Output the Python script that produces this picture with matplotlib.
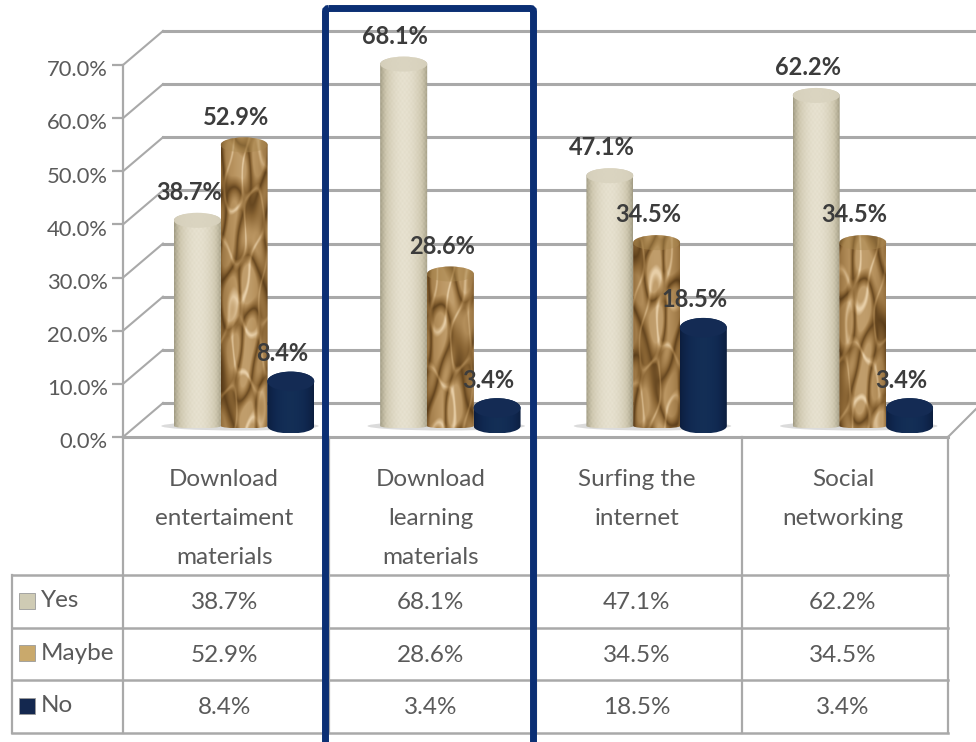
import numpy as np
import matplotlib
matplotlib.use("Agg")
import matplotlib.pyplot as plt
from matplotlib.patches import Ellipse, PathPatch, FancyBboxPatch, Rectangle
from matplotlib.path import Path
from matplotlib.colors import LinearSegmentedColormap
from matplotlib.transforms import ScaledTranslation

categories = ["Download\nentertaiment\nmaterials", "Download\nlearning\nmaterials",
              "Surfing the\ninternet", "Social\nnetworking"]
yes_vals = [38.7, 68.1, 47.1, 62.2]
maybe_vals = [52.9, 28.6, 34.5, 34.5]
no_vals = [8.4, 3.4, 18.5, 3.4]
series_names = ["Yes", "Maybe", "No"]
y_ticks = [0, 10, 20, 30, 40, 50, 60, 70]

W, H = 976, 742
plt.rcParams["font.family"] = ["Lato", "DejaVu Sans"]
GRID = "#a9a9a9"
TXT = "#5a5a5a"
fig = plt.figure(figsize=(W / 100, H / 100), dpi=100)
fig.patch.set_facecolor("white")

# layout in pixels
L, CAT_W, Y0, Y70 = 123, 206.25, 437, 65
PX = (Y0 - Y70) / 70
ax = fig.add_axes([L / W, 1 - Y0 / H, (W - L) / W, (Y0 - Y70) / H])
ax.set_xlim(0, (W - L) / CAT_W)
ax.set_ylim(0, 70)
ax.patch.set_alpha(0)
for s in ["top", "right", "bottom"]:
    ax.spines[s].set_visible(False)
ax.spines["left"].set_color(GRID)
ax.spines["left"].set_linewidth(1.6)
ax.set_xticks([])
ax.set_yticks(y_ticks)
ax.set_yticklabels([f"{t:.1f}%" for t in y_ticks], fontsize=15.8, color=TXT)
ax.tick_params(axis="y", length=8, width=1.6, color=GRID, pad=3)
for lab in ax.get_yticklabels():
    lab.set_transform(lab.get_transform() + ScaledTranslation(0, -2.4 / 72, fig.dpi_scale_trans))

# 3-D box: back wall, side wall and floor
DX, DY = 40 / CAT_W, 34 / PX
xmax = ax.get_xlim()[1]
for t in y_ticks:
    ax.plot([0, DX], [t, t + DY], color=GRID, lw=1.5, clip_on=False, zorder=1)
    ax.plot([DX, xmax], [t + DY, t + DY], color=GRID, lw=2.2, clip_on=False, zorder=1)
ax.plot([0, 4], [0, 0], color=GRID, lw=2.2, clip_on=False, zorder=1)
ax.plot([4, xmax], [0, 28 / PX], color=GRID, lw=1.5, clip_on=False, zorder=1)

# textures
nx, ny = 120, 500
xx, yy = np.meshgrid(np.linspace(0, 1, nx), np.linspace(0, 1, ny))
shade = np.sin(np.pi * xx) ** 0.7

def tex_yes(phase, asp):
    weave = 0.05 * np.sin(yy * 60 * asp) * np.sin(xx * 70)
    return np.clip(0.12 + 0.72 * shade + weave, 0, 1)

def tex_maybe(phase, asp):
    yv = yy * asp
    a = np.sin(6 * xx + 2.4 * yv + phase) + np.sin(-8 * xx + 3.1 * yv + 2 * phase)
    b = np.sin(13 * xx - 1.9 * yv + 3 * phase) + np.cos(4 * xx + 4.7 * yv + phase)
    r = np.abs(a + 0.7 * b)
    v = 0.16 + 0.5 * np.clip(r / 1.3, 0, 1) + 0.3 * np.clip(1 - 1.6 * np.abs(a - b), 0, 1)
    return np.clip(v * (0.6 + 0.5 * shade), 0, 1)

def tex_no(phase, asp):
    return np.clip(0.1 + 0.6 * shade, 0, 1)

cmaps = [
    LinearSegmentedColormap.from_list("y", ["#8f8a72", "#cfc8b0", "#f0ebdc"]),
    LinearSegmentedColormap.from_list("m", ["#43290c", "#8a6534", "#b8935f", "#e8cfa8"]),
    LinearSegmentedColormap.from_list("n", ["#0a1a38", "#102850", "#18385f"]),
]
textures = [tex_yes, tex_maybe, tex_no]
top_cols = ["#d9d3bf", "#a9884f", "#142b54"]
top_alpha = [0.9, 0.45, 1.0]
ELL = 15 / PX
BOT = 5 / PX
BW, STEP, SHIFT = 47 / CAT_W, 46.7 / CAT_W, 18 / CAT_W
FLOOR = 11 / PX

def cylinder(x, w, y0, y1, e_bot, e_top):
    k = 0.5523
    hw, hb, ht = w / 2, e_bot / 2, e_top / 2
    verts = [(x - hw, y1), (x - hw, y0),
             (x - hw, y0 - k * hb), (x - k * hw, y0 - hb), (x, y0 - hb),
             (x + k * hw, y0 - hb), (x + hw, y0 - k * hb), (x + hw, y0),
             (x + hw, y1),
             (x + hw, y1 + k * ht), (x + k * hw, y1 + ht), (x, y1 + ht),
             (x - k * hw, y1 + ht), (x - hw, y1 + k * ht), (x - hw, y1),
             (x - hw, y1)]
    codes = [Path.MOVETO, Path.LINETO] + [Path.CURVE4] * 6 + [Path.LINETO] + [Path.CURVE4] * 6 + [Path.CLOSEPOLY]
    return Path(verts, codes)

series = [yes_vals, maybe_vals, no_vals]
for c in range(len(categories)):
    centre = c + 0.5 + SHIFT
    ax.add_patch(Ellipse((centre - 0.02, FLOOR), 3.35 * BW, 1.7, color="#c4c4c4", alpha=.6, zorder=2, lw=0))
    for s, vals in enumerate(series):
        x = centre + (s - 1) * STEP
        v = vals[c]
        y0, y1 = FLOOR, FLOOR + v
        e = ELL * (1.0 if s != 2 else 1.3)
        eb = BOT if s != 2 else ELL * 1.0
        path = cylinder(x, BW, y0, y1, eb, e)
        z = 3 + s * 0.1 if s != 1 else 3.05
        im = ax.imshow(textures[s](c * 1.7 + s, v / 10), cmap=cmaps[s], vmin=0, vmax=1, aspect="auto",
                       extent=[x - BW / 2, x + BW / 2, y0 - eb / 2, y1 + e / 2],
                       origin="lower", zorder=z, interpolation="bilinear")
        patch = PathPatch(path, fc="none", ec="none", transform=ax.transData)
        ax.add_patch(patch)
        patch.set_clip_on(False)
        im.set_clip_box(fig.bbox)
        im.set_clip_path(patch)
        ax.add_patch(Ellipse((x, y1), BW, e, fc=top_cols[s], ec="none", alpha=top_alpha[s],
                             zorder=z + .01, clip_on=False))
        ax.annotate(f"{v:.1f}%", (x, y1), xytext=(-6, 20), textcoords="offset points",
                    ha="center", va="center", fontsize=17, fontweight="bold",
                    color="#3c3c3c", zorder=6, annotation_clip=False)
ax.set_xlim(0, xmax)
ax.set_ylim(0, 70)

# data table, in pixel coordinates
ov = fig.add_axes([0, 0, 1, 1])
ov.set_xlim(0, W)
ov.set_ylim(H, 0)
ov.axis("off")
ov.patch.set_alpha(0)
cols = [L + i * CAT_W for i in range(5)]
rows = [575, 628, 680, 733]
for i, x in enumerate(cols):
    ov.plot([x, x], [Y0, rows[-1]], color=GRID, lw=1.6)
for y in rows:
    ov.plot([12, cols[-1]], [y, y], color=GRID, lw=1.8)
ov.plot([12, 12], [rows[0], rows[-1]], color=GRID, lw=1.6)

for i, cat in enumerate(categories):
    cx = (cols[i] + cols[i + 1]) / 2
    for j, line in enumerate(cat.split("\n")):
        ov.text(cx - 2, 480 + 38.5 * j, line, ha="center", va="center", fontsize=17.5, color=TXT)
    for r, vals in enumerate(series):
        ov.text(cx - 2, (rows[r] + rows[r + 1]) / 2 + 1, f"{vals[i]:.1f}%", ha="center", va="center",
                fontsize=17.5, color=TXT)
sw = ["#cfcbb4", "#c9a96c", "#14284f"]
for r, name in enumerate(series_names):
    ym = (rows[r] + rows[r + 1]) / 2 - 1
    ov.add_patch(Rectangle((19, ym - 8), 16, 16, fc=sw[r], ec="#9a9a9a", lw=.6))
    ov.text(41, ym, name, ha="left", va="center", fontsize=17.5, color=TXT)

# highlight box
ov.add_patch(FancyBboxPatch((325.5, 8.5), 208, 745, boxstyle="round,pad=0,rounding_size=3",
                            fc="none", ec="#0b2f74", lw=5, zorder=10))

fig.savefig("out.png", dpi=100)
